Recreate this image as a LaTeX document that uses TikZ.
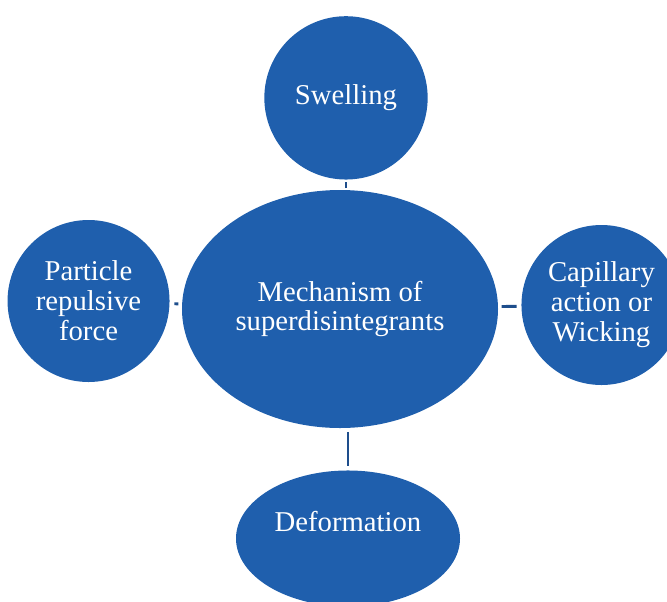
\documentclass[tikz,border=0pt]{standalone}
\usepackage{fontspec}
\setmainfont{Liberation Serif}
\usetikzlibrary{shapes.geometric, positioning}
\definecolor{mechblue}{RGB}{31,95,173}
\definecolor{linkblue}{RGB}{30,78,140}

\begin{document}
\begin{tikzpicture}[
    font=\fontsize{24.5}{25.5}\selectfont,
    % Base styles for shapes and links
    hub/.style={ellipse, fill=mechblue, text=white, align=center, minimum width=9.48cm, minimum height=7.14cm, inner sep=0pt},
    spoke/.style={circle, fill=mechblue, text=white, align=center, minimum size=4.9cm, inner sep=0pt},
    spokewide/.style={ellipse, fill=mechblue, text=white, align=center, minimum width=6.72cm, minimum height=4.08cm, inner sep=0pt},
    link/.style={draw=linkblue, line width=2.5pt, shorten <=3pt, shorten >=4pt}
]
\clip (-10.2,9.27) rectangle (9.81,-8.76);
\useasboundingbox (-10.2,9.27) rectangle (9.81,-8.76);

% --- Nodes ---
\node [hub] (mechanism) {Mechanism of\\superdisintegrants};

\node [spoke, above=0.3cm of mechanism, xshift=0.18cm] (swelling) {Swelling};
\node [spoke, left=0.36cm of mechanism, yshift=0.24cm, minimum size=4.86cm] (repulsion) {Particle\\repulsive\\force};
\node [spoke, right=0.69cm of mechanism, yshift=0.12cm, minimum size=4.8cm] (wicking) {Capillary\\action or\\Wicking};
\node [spokewide, below=1.26cm of mechanism, xshift=0.24cm] (deformation) {Deformation\\[0.12cm]};

% --- Links ---
\draw [link, shorten <=1.5pt, shorten >=2pt] (mechanism.north -| swelling.south) -- (swelling.south);
\draw [link] (mechanism) -- (repulsion);
\draw [link] (mechanism) -- (wicking);
\draw [link] (mechanism.south -| deformation.north) -- (deformation.north);

\end{tikzpicture}
\end{document}
